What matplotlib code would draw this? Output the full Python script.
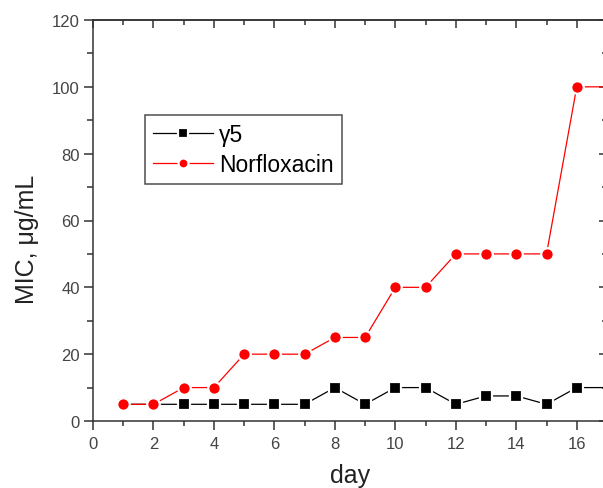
import matplotlib
matplotlib.use("Agg")
import matplotlib.pyplot as plt
from matplotlib.ticker import MultipleLocator

plt.rcParams['font.family'] = ['Liberation Sans', 'DejaVu Sans']

days = [1, 2, 3, 4, 5, 6, 7, 8, 9, 10, 11, 12, 13, 14, 15, 16, 17]
gamma5 = [5, 5, 5, 5, 5, 5, 5, 10, 5, 10, 10, 5, 7.5, 7.5, 5, 10, 10]
norfloxacin = [5, 5, 10, 10, 20, 20, 20, 25, 25, 40, 40, 50, 50, 50, 50, 100, 100]
series_labels = ["\u03b35", "Norfloxacin"]
x_label = "day"
y_label = "MIC, \u03bcg/mL"

fig = plt.figure(figsize=(6.03, 4.89), dpi=100)
ax = fig.add_axes([93/603, 67/489, 514/603, 401/489])

shown = list(range(len(days) - 1))
ax.plot(days, gamma5, color='black', lw=0.9, marker='s', ms=8.5,
        markerfacecolor='black', markeredgecolor='white', mew=1.6,
        markevery=shown, label=series_labels[0], zorder=3)
ax.plot(days, norfloxacin, color='red', lw=0.9, marker='o', ms=9,
        markerfacecolor='red', markeredgecolor='white', mew=1.6,
        markevery=shown, label=series_labels[1], zorder=3)

ax.set_xlim(0, 17)
ax.set_ylim(0, 120)
ax.xaxis.set_major_locator(MultipleLocator(2))
ax.xaxis.set_minor_locator(MultipleLocator(1))
ax.yaxis.set_major_locator(MultipleLocator(20))
ax.yaxis.set_minor_locator(MultipleLocator(10))

spine_c = '#333333'
for s in ax.spines.values():
    s.set_linewidth(1.1)
    s.set_color(spine_c)

ax.tick_params(axis='both', which='both', color=spine_c, width=1.1,
               labelsize=12, labelcolor='#444444')
ax.tick_params(axis='x', which='major', direction='out', length=6.5, pad=4)
ax.tick_params(axis='x', which='minor', direction='out', length=3.5)
ax.tick_params(axis='y', which='major', direction='out', length=6.5, pad=3)
ax.tick_params(axis='y', which='minor', direction='out', length=4)

# inward ticks on top and right
axt = ax.secondary_xaxis('top')
axt.xaxis.set_major_locator(MultipleLocator(2))
axt.xaxis.set_minor_locator(MultipleLocator(1))
axt.tick_params(which='major', direction='in', length=6, width=1.1, color=spine_c, labeltop=False)
axt.tick_params(which='minor', direction='in', length=3.5, width=1.1, color=spine_c)
axt.spines['top'].set_color(spine_c)
axt.spines['top'].set_linewidth(1.1)
axr = ax.secondary_yaxis('right')
axr.yaxis.set_major_locator(MultipleLocator(20))
axr.yaxis.set_minor_locator(MultipleLocator(10))
axr.tick_params(which='major', direction='in', length=6, width=1.1, color=spine_c, labelright=False)
axr.tick_params(which='minor', direction='in', length=3.5, width=1.1, color=spine_c)

ax.set_xlabel(x_label, fontsize=18, labelpad=9, color='#222222')
ax.set_ylabel(y_label, fontsize=18, color='#222222')
ax.yaxis.set_label_coords(-0.105, 0.455)

leg = ax.legend(loc='upper left', bbox_to_anchor=(0.101, 0.763), fontsize=16.5,
                frameon=True, fancybox=False, edgecolor='#222222',
                handlelength=2.6, handletextpad=0.3, labelspacing=0.3,
                borderpad=0.35, markerscale=0.8, borderaxespad=0)
leg.get_frame().set_linewidth(1.1)

fig.savefig("out.png", dpi=100)
